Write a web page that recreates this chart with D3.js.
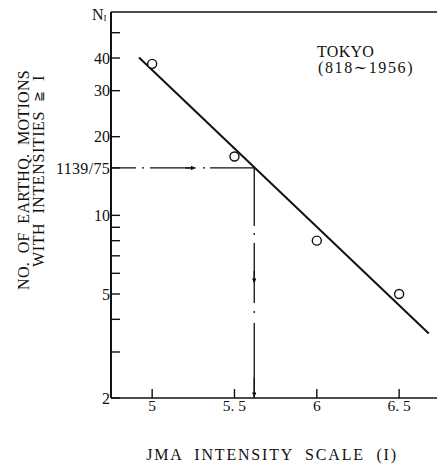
<!DOCTYPE html>
<html><head><meta charset="utf-8">
<script src="https://cdn.jsdelivr.net/npm/d3@7"></script>
<style>
html,body{margin:0;padding:0;background:#fff;}
svg{display:block;}
text{font-family:"Liberation Serif","DejaVu Serif",serif;fill:#111;}
</style></head><body>
<svg id="c" width="437" height="464"></svg>
<script>
// data
const intensities = [5, 5.5, 6, 6.5];
const counts = [38, 16.8, 8, 5];
const fitLine = [[4.92, 40.2], [6.68, 3.53]];
const readX = 5.62;
const readY = 1139 / 75;
const xTicks = [5, 5.5, 6, 6.5];
const xTickLabels = ["5", "5. 5", "6", "6. 5"];
const yMajor = [2, 5, 10, 20, 30, 40];
const yMajorLabels = ["2", "5", "10", "20", "30", "40"];
const yMinor = [3, 4, 6, 7, 8, 9, 50];

const svg = d3.select("#c");
const L = 111, R = 437, T = 12, B = 398;
const x = d3.scaleLinear().domain([4.75, 6.73]).range([L, R]);
const y = d3.scaleLog().domain([2, 60]).range([B, T]);
const ink = "#111";

// frame lines
svg.append("line").attr("x1", L).attr("x2", L).attr("y1", T).attr("y2", B).attr("stroke", ink).attr("stroke-width", 2);
svg.append("line").attr("x1", L).attr("x2", R).attr("y1", T).attr("y2", T).attr("stroke", ink).attr("stroke-width", 1.5);
svg.append("line").attr("x1", L).attr("x2", R).attr("y1", B).attr("y2", B).attr("stroke", ink).attr("stroke-width", 1.5);

// y ticks (inward)
const yT = svg.append("g");
yMajor.concat([readY]).concat(yMinor).forEach(v => {
  yT.append("line").attr("x1", L).attr("x2", L + 9).attr("y1", y(v)).attr("y2", y(v)).attr("stroke", ink).attr("stroke-width", 1.4);
});
yMajor.forEach((v, i) => {
  yT.append("text").attr("x", L - 1).attr("y", y(v)).attr("dy", "0.35em").attr("text-anchor", "end").attr("font-size", 16).text(yMajorLabels[i]);
});
yT.append("text").attr("x", L - 1).attr("y", y(readY)).attr("dy", "0.35em").attr("text-anchor", "end").attr("font-size", 16).attr("letter-spacing", 0.3).text("1139/75");

// x ticks (inward)
xTicks.forEach((v, i) => {
  svg.append("line").attr("x1", x(v)).attr("x2", x(v)).attr("y1", B).attr("y2", B - 9).attr("stroke", ink).attr("stroke-width", 1.4);
  svg.append("text").attr("x", x(v)).attr("y", B + 13).attr("text-anchor", "middle").attr("font-size", 15.5).style("white-space", "pre").text(xTickLabels[i]);
});

// arrow markers
const defs = svg.append("defs");
defs.append("marker").attr("id", "arr").attr("viewBox", "0 0 10 10").attr("refX", 10).attr("refY", 5)
  .attr("markerWidth", 9).attr("markerHeight", 4.5).attr("markerUnits", "userSpaceOnUse").attr("orient", "auto")
  .append("path").attr("d", "M0,0 L10,5 L0,10 Z").attr("fill", ink);

// reading lines (dash-dot)
const px = x(readX), py = y(readY);
svg.append("line").attr("x1", L).attr("x2", px).attr("y1", py).attr("y2", py)
  .attr("stroke", ink).attr("stroke-width", 1.3).attr("stroke-dasharray", "25,6,2,6,43,10,2,5,80");
svg.append("line").attr("x1", px).attr("x2", px).attr("y1", py).attr("y2", B)
  .attr("stroke", ink).attr("stroke-width", 1.3).attr("stroke-dasharray", "58,7,2,8,60,8,2,10,100");
// arrows
const hx = L + (px - L) * 0.59;
svg.append("line").attr("x1", hx - 10).attr("x2", hx).attr("y1", py).attr("y2", py).attr("stroke", ink).attr("stroke-width", 1.3).attr("marker-end", "url(#arr)");
const vy = py + (B - py) * 0.5;
svg.append("line").attr("x1", px).attr("x2", px).attr("y1", vy - 12).attr("y2", vy).attr("stroke", ink).attr("stroke-width", 1.3).attr("marker-end", "url(#arr)");
svg.append("line").attr("x1", px).attr("x2", px).attr("y1", B - 20).attr("y2", B - 1).attr("stroke", ink).attr("stroke-width", 1.3).attr("marker-end", "url(#arr)");

// fitted line
svg.append("path").datum(fitLine).attr("d", d3.line().x(d => x(d[0])).y(d => y(d[1])))
  .attr("fill", "none").attr("stroke", ink).attr("stroke-width", 2);

// points
svg.selectAll("circle.pt").data(intensities).join("circle").attr("class", "pt")
  .attr("cx", d => x(d)).attr("cy", (d, i) => y(counts[i])).attr("r", 4.5)
  .attr("fill", "#fff").attr("stroke", ink).attr("stroke-width", 1.4);

// annotation
svg.append("text").attr("x", 317).attr("y", 57).attr("font-size", 16).attr("letter-spacing", 0.3).text("TOKYO");
svg.append("text").attr("x", 318).attr("y", 73).attr("font-size", 16).attr("letter-spacing", 1.6).text("(818\u223C1956)");

// N_I
const nt = svg.append("text").attr("x", 92).attr("y", 20).attr("font-size", 16);
nt.append("tspan").text("N");
nt.append("tspan").attr("font-size", 9).attr("dy", 1).text("I");

// axis titles
svg.append("text").attr("x", 272).attr("y", 460).attr("text-anchor", "middle").attr("font-size", 16)
  .attr("letter-spacing", 1.8).style("white-space", "pre").text("JMA  INTENSITY  SCALE  (I)");
svg.append("text").attr("transform", "translate(29,180) rotate(-90)").attr("text-anchor", "middle").attr("font-size", 16)
  .attr("letter-spacing", 0.3).style("white-space", "pre").text("NO.  OF  EARTHQ.  MOTIONS");
const l2 = svg.append("text").attr("transform", "translate(44,171) rotate(-90)").attr("text-anchor", "middle").attr("font-size", 16)
  .attr("letter-spacing", 0.6).style("white-space", "pre");
l2.append("tspan").text("WITH  INTENSITIES  ");
l2.append("tspan").attr("font-size", 13).attr("dy", -1).text("\u2267");
l2.append("tspan").attr("dy", 1).text("  I");
</script>
</body></html>
